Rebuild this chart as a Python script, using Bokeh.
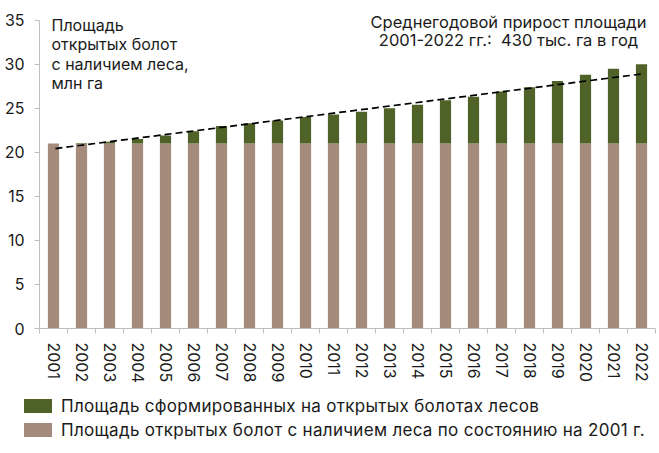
from bokeh.plotting import figure
from bokeh.layouts import column
from bokeh.models import (ColumnDataSource, FixedTicker, Label, Range1d, Div)
from bokeh.embed import file_html
from bokeh.resources import INLINE

# ---- data ----
years = [2001, 2002, 2003, 2004, 2005, 2006, 2007, 2008, 2009, 2010, 2011,
         2012, 2013, 2014, 2015, 2016, 2017, 2018, 2019, 2020, 2021, 2022]
base_2001 = [21.0, 21.0, 21.0, 21.0, 21.0, 21.0, 21.0, 21.0, 21.0, 21.0, 21.0,
             21.0, 21.0, 21.0, 21.0, 21.0, 21.0, 21.0, 21.0, 21.0, 21.0, 21.0]
new_forest = [0.0, 0.05, 0.2, 0.5, 0.9, 1.4, 2.0, 2.3, 2.6, 3.0, 3.3,
              3.6, 4.0, 4.4, 4.9, 5.3, 5.9, 6.4, 7.1, 7.8, 8.5, 9.0]
trend_x = [2001.07, 2022.12]
trend_y = [20.43, 28.94]
y_ticks = [0, 5, 10, 15, 20, 25, 30, 35]

label_green = "Площадь сформированных на открытых болотах лесов"
label_brown = "Площадь открытых болот с наличием леса по состоянию на 2001 г."
left_note = "Площадь\nоткрытых болот\nс наличием леса,\nмлн га"
right_note = "Среднегодовой прирост площади\n2001-2022 гг.:\u00a0 430 тыс. га в год"

GREEN = "#4f6228"
BROWN = "#a48b7c"
TEXT = "#1a1a1a"
AXIS = "#bfbfbf"
FONT = "Inter"

total = [b + g for b, g in zip(base_2001, new_forest)]
src = ColumnDataSource(dict(x=years, base=base_2001, total=total))

MAIN_H = 385
p = figure(width=658, height=MAIN_H, output_backend="svg", toolbar_location=None,
           x_range=Range1d(2000.5, 2022.5), y_range=Range1d(0, 36.44),
           min_border_left=39, min_border_right=3, min_border_top=7,
           min_border_bottom=MAIN_H - 328)
p.outline_line_color = None
p.xgrid.grid_line_color = None
p.ygrid.grid_line_color = None
p.background_fill_color = "white"

r_brown = p.vbar(x="x", bottom=0, top="base", width=0.4, source=src,
                 fill_color=BROWN, line_color=None)
r_green = p.vbar(x="x", bottom="base", top="total", width=0.4, source=src,
                 fill_color=GREEN, line_color=None)
p.line(trend_x, trend_y, line_color="black", line_width=1.7, line_dash="7 4")

# axes
p.yaxis.ticker = FixedTicker(ticks=y_ticks)
p.yaxis.bounds = (y_ticks[0], y_ticks[-1])
p.yaxis.axis_line_color = AXIS
p.yaxis.major_tick_line_color = AXIS
p.yaxis.major_tick_out = 5
p.yaxis.major_tick_in = 0
p.yaxis.minor_tick_line_color = None
p.yaxis.major_label_standoff = 10
p.yaxis.major_label_text_font = FONT
p.yaxis.major_label_text_font_size = "16px"
p.yaxis.major_label_text_color = TEXT

p.xaxis.ticker = FixedTicker(ticks=years,
                             minor_ticks=[y - 0.5 for y in years] + [years[-1] + 0.5])
p.xaxis.axis_line_color = AXIS
p.xaxis.major_tick_line_color = None
p.xaxis.major_tick_out = 0
p.xaxis.major_tick_in = 0
p.xaxis.minor_tick_line_color = AXIS
p.xaxis.minor_tick_out = 5
p.xaxis.minor_tick_in = 0
p.xaxis.major_label_orientation = "vertical"
p.xaxis.major_label_standoff = 9
p.xaxis.major_label_text_font = FONT
p.xaxis.major_label_text_font_size = "16px"
p.xaxis.major_label_text_color = TEXT

# notes
p.add_layout(Label(x=12, y=314, x_units="screen", y_units="screen",
                   text=left_note, text_baseline="top", text_align="left",
                   text_font=FONT, text_font_size="16px", text_color=TEXT,
                   text_line_height=0.98))
p.add_layout(Label(x=469, y=317, x_units="screen", y_units="screen",
                   text=right_note, text_baseline="top", text_align="center",
                   text_font=FONT, text_font_size="16.5px", text_color=TEXT,
                   text_line_height=0.92))

# legend strip below the chart
def legend_row(color, label, top):
    return (f'<div style="position:absolute;left:24px;top:{top}px;width:28px;'
            f'height:14px;background:{color}"></div>'
            f'<div style="position:absolute;left:61px;top:{top - 4}px;'
            f'line-height:22px;white-space:nowrap">{label}</div>')

legend_html = (f'<div style="position:relative;width:658px;height:66px;'
               f'font-family:{FONT};font-size:17px;letter-spacing:0.3px;color:{TEXT}">'
               + legend_row(GREEN, label_green, 14)
               + legend_row(BROWN, label_brown, 38)
               + '</div>')
leg = Div(text=legend_html, width=658, height=66, margin=(0, 0, 0, 0))

layout = column(p, leg, spacing=0)
open("out.html", "w").write(file_html(layout, INLINE))
